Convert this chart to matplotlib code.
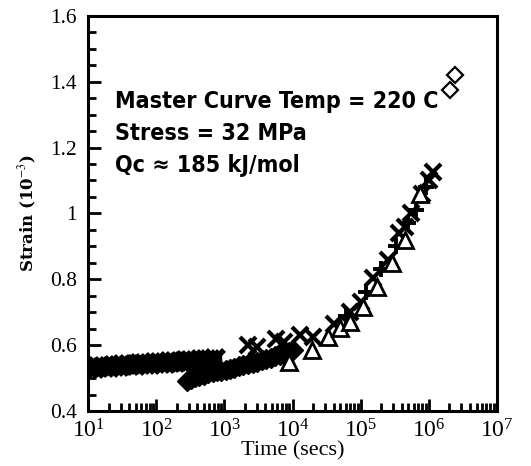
import matplotlib.pyplot as plt
from matplotlib.ticker import MultipleLocator, LogLocator, NullFormatter

plt.rcParams['font.family'] = ['Liberation Serif', 'DejaVu Serif']
plt.rcParams['mathtext.fontset'] = 'stix'

# early creep band (x markers)
t_early = [10, 12, 14, 17, 20, 24, 28, 33, 40, 48, 57, 68, 80, 95, 115, 135,
           160, 190, 230, 270, 320, 380, 450, 530, 620, 720]
s_early = [0.530, 0.532, 0.533, 0.534, 0.535, 0.537, 0.538, 0.539, 0.540, 0.541,
           0.542, 0.543, 0.544, 0.545, 0.546, 0.547, 0.548, 0.549, 0.550, 0.551,
           0.552, 0.553, 0.554, 0.555, 0.556, 0.557]

# second band (filled diamonds)
t_band = [280, 320, 370, 430, 500, 580, 670, 780, 900, 1050, 1200, 1400, 1650,
          1900, 2200, 2600, 3000, 3500, 4100, 4800, 5600, 6500, 7600, 8800, 10000]
s_band = [0.492, 0.497, 0.502, 0.506, 0.510, 0.514, 0.517, 0.520, 0.523, 0.526,
          0.529, 0.532, 0.536, 0.539, 0.542, 0.546, 0.550, 0.554, 0.558, 0.562,
          0.566, 0.570, 0.574, 0.579, 0.585]

# x markers continuing the master curve
t_x = [2200, 3000, 5800, 7500, 13000, 20000, 40000, 70000, 100000, 150000,
       250000, 370000, 450000, 550000, 800000, 1000000, 1150000]
s_x = [0.600, 0.595, 0.620, 0.610, 0.630, 0.625, 0.665, 0.700, 0.730, 0.805,
       0.860, 0.940, 0.960, 1.000, 1.060, 1.100, 1.125]

# triangles
t_tri = [9000, 19000, 33000, 49000, 69000, 107000, 175000, 290000, 450000, 740000]
s_tri = [0.550, 0.586, 0.625, 0.652, 0.670, 0.716, 0.777, 0.850, 0.920, 1.060]

# plus markers
t_plus = [60000, 120000, 200000, 330000, 500000, 650000, 900000]
s_plus = [0.690, 0.760, 0.830, 0.900, 0.970, 1.010, 1.080]

# last diamonds
t_dia = [2050000, 2400000]
s_dia = [1.375, 1.420]

y_ticks = [0.4, 0.6, 0.8, 1.0, 1.2, 1.4, 1.6]
y_labels = ['0.4', '0.6', '0.8', '1', '1.2', '1.4', '1.6']
notes = ['Master Curve Temp = 220 C', 'Stress = 32 MPa', 'Qc \u2248 185 kJ/mol']

fig = plt.figure(figsize=(5.31, 4.66), dpi=100)
ax = fig.add_axes([0.166, 0.118, 0.770, 0.848])

ax.plot(t_early, s_early, 'x', color='black', ms=13, mew=4)
ax.plot(t_early, s_early, 's', color='black', ms=9)
ax.plot(t_band, s_band, 'D', color='black', ms=10)
ax.plot(t_x, s_x, 'x', color='black', ms=12, mew=3)
ax.plot(t_plus, s_plus, '+', color='black', ms=12, mew=2.8)
ax.plot(t_tri, s_tri, '^', mfc='white', mec='black', ms=11, mew=2)
ax.plot(t_dia, s_dia, 'D', mfc='white', mec='black', ms=8, mew=1.6)

ax.set_xscale('log')
ax.set_xlim(10, 1e7)
ax.set_ylim(0.4, 1.6)
ax.yaxis.set_minor_locator(MultipleLocator(0.05))
ax.xaxis.set_major_locator(LogLocator(base=10, numticks=10))
ax.xaxis.set_minor_locator(LogLocator(base=10, subs=range(2, 10), numticks=100))
ax.xaxis.set_minor_formatter(NullFormatter())
ax.set_yticks(y_ticks)
ax.set_yticklabels(y_labels)

ax.tick_params(which='both', direction='in', top=False, right=False, width=2)
ax.tick_params(which='major', length=9)
ax.tick_params(which='minor', length=6)
ax.tick_params(axis='x', which='major', labelsize=17, pad=6)
ax.tick_params(axis='y', which='major', labelsize=15.5, pad=8)
for sp in ax.spines.values():
    sp.set_linewidth(2.2)

ax.set_xlabel('Time (secs)', fontsize=16, labelpad=-1)
ax.set_ylabel(r'Strain (10$^{-3}$)', fontsize=12, family='DejaVu Serif',
              fontweight='bold', labelpad=8)

for i, note in enumerate(notes):
    ax.text(0.066, 0.767 - i * 0.081, note, transform=ax.transAxes,
            fontsize=16.7, fontweight='bold', va='baseline', fontstretch='condensed',
            family='DejaVu Sans')

fig.savefig('out.png', dpi=100)
